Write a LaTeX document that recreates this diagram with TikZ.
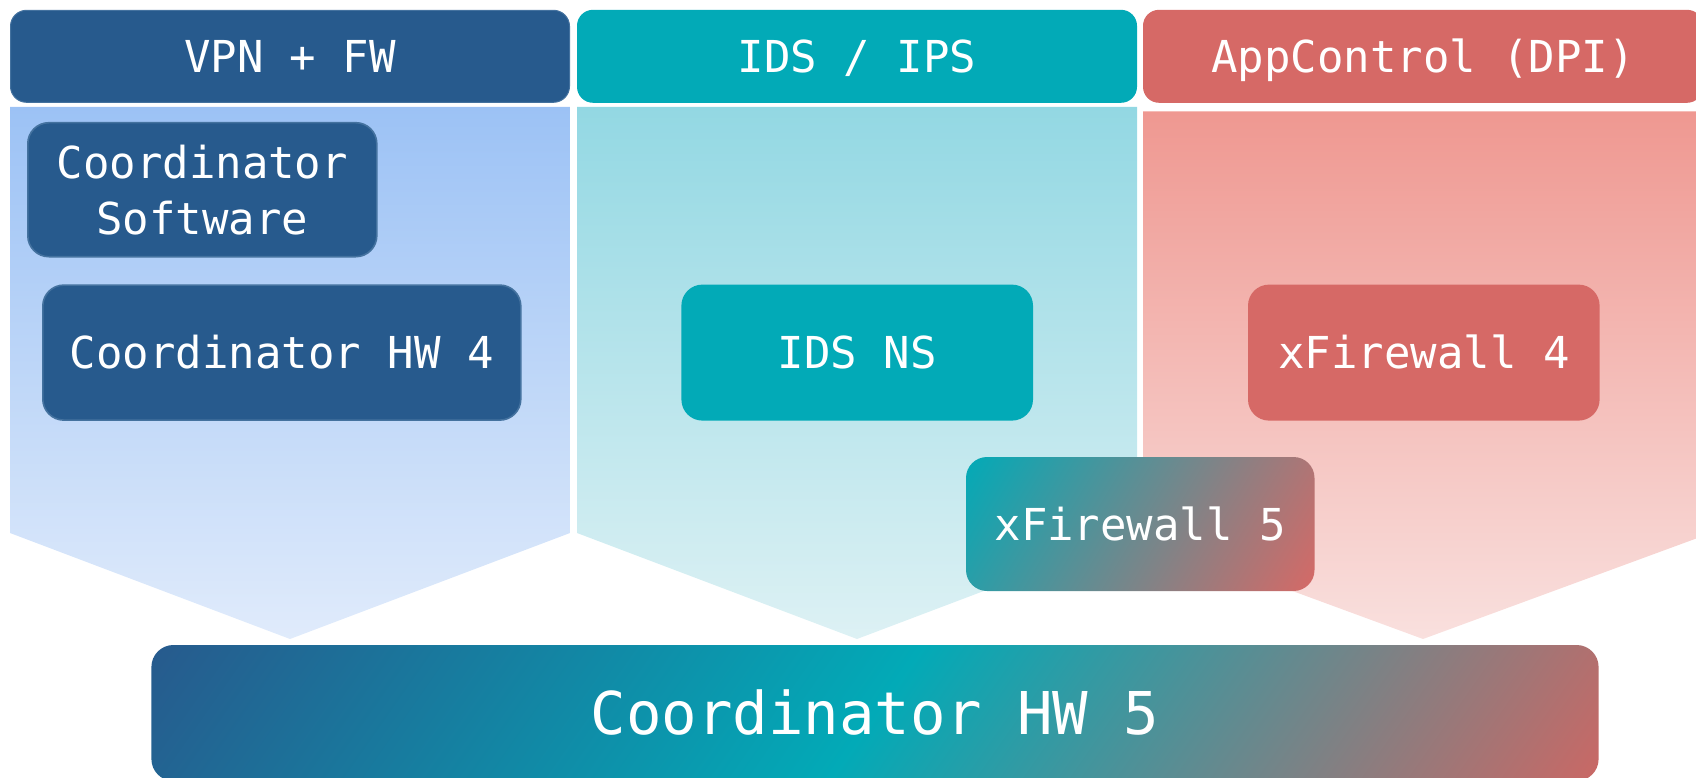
\documentclass[tikz,border=0pt]{standalone}
\usepackage{fontspec}
\newfontfamily\dmono{DejaVu Sans Mono}
\definecolor{dblue}{HTML}{275A8D}
\definecolor{dblueline}{HTML}{44729F}
\definecolor{tealc}{HTML}{02AAB7}
\definecolor{redc}{HTML}{D66966}
\definecolor{redend}{HTML}{CA6865}
\definecolor{vpntop}{HTML}{9CC2F5}
\definecolor{vpnbot}{HTML}{E0EBFB}
\definecolor{idstop}{HTML}{93D8E3}
\definecolor{idsbot}{HTML}{DDF1F4}
\definecolor{apptop}{HTML}{EF9891}
\definecolor{appbot}{HTML}{F9E0DE}
\tikzset{
  lbl/.style={text=white, font=\dmono\fontsize{44}{56}\selectfont, inner sep=0pt, text height=32pt, text depth=0pt},
  header/.style={lbl, rounded corners=16pt, minimum width=560pt, minimum height=93pt},
  box/.style={lbl, rounded corners=21pt, minimum height=135pt},
  bluebox/.style={fill=dblue, draw=dblueline, line width=1.6pt},
}
\begin{document}
\begin{tikzpicture}[x=1pt,y=-1pt]
\useasboundingbox (0,0) rectangle (1696,778);
\begin{scope}
\clip (0,0) rectangle (1696,778);
% panels
\shade[top color=vpntop, bottom color=vpnbot] (10,107) -- (570,107) -- (570,533) -- (290,639) -- (10,533) -- cycle;
\shade[top color=idstop, bottom color=idsbot] (577,107) -- (1137,107) -- (1137,533) -- (857,639) -- (577,533) -- cycle;
\shade[top color=apptop, bottom color=appbot] (1143,111.5) -- (1703,111.5) -- (1703,536) -- (1423,639) -- (1143,536) -- cycle;
% headers
\node[header, bluebox, line width=1pt, minimum width=559pt, minimum height=92pt] (hvpn) at (290,56.3) {VPN + FW};
\node[header, fill=tealc] (hids) at (857,56.3) {IDS / IPS};
\node[header, fill=redc] (happ) at (1423,56.3) {AppControl (DPI)};
% boxes
\node[box, bluebox, align=center, text height=, text depth=, minimum width=349pt, minimum height=134pt] (csw) at (202.3,189.7) {Coordinator\\Software};
\node[box, bluebox, minimum width=478pt, minimum height=135pt] (hw4) at (281.8,352.6) {Coordinator HW 4};
\node[box, fill=tealc, minimum width=351.6pt, minimum height=136pt] (idsns) at (857.2,352.6) {IDS NS};
\node[box, fill=redc, minimum width=351.6pt, minimum height=136pt] (xfw4) at (1423.8,352.6) {xFirewall 4};
% xFirewall 5 diagonal gradient
\begin{scope}
\clip[rounded corners=21pt] (966,457) rectangle (1314.5,591);
\begin{scope}[transform canvas={rotate around={-31:(1140.2,524)}}]
\shade[left color=tealc, right color=redc] (956.7,300) rectangle (1323.7,750);
\end{scope}
\end{scope}
\node[box, minimum width=348.5pt, minimum height=134pt] (xfw5) at (1140.2,524) {xFirewall 5};
% Coordinator HW 5 diagonal gradient
\begin{scope}
\clip[rounded corners=22pt] (151.4,645) rectangle (1598.6,781);
\begin{scope}[transform canvas={rotate around={-35:(875,713)}}]
\shade[left color=dblue, right color=redend, middle color=tealc] (244,0) rectangle (1506,1400);
\end{scope}
\end{scope}
\node[box, minimum width=1447pt, minimum height=136pt, font=\dmono\fontsize{59}{70}\selectfont, text height=43pt] (hw5) at (875,713) {Coordinator HW 5};
\end{scope}
\end{tikzpicture}
\end{document}
